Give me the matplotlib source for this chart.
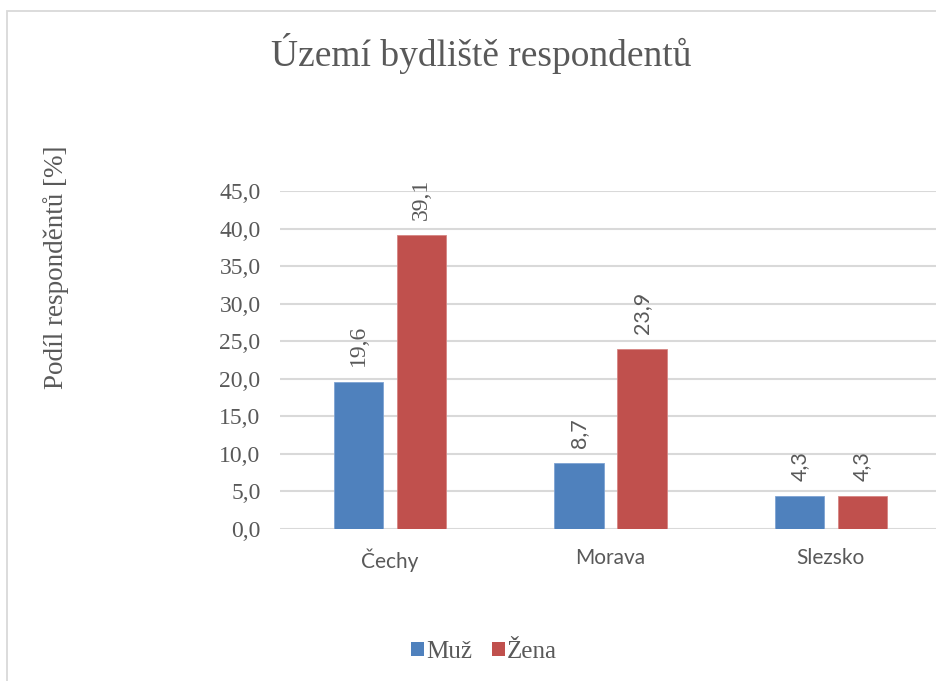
import matplotlib
matplotlib.use("Agg")
import matplotlib.pyplot as plt
from matplotlib.patches import Rectangle, Patch
from matplotlib.font_manager import FontProperties
import numpy as np

categories = ["Čechy", "Morava", "Slezsko"]
series_names = ["Muž", "Žena"]
muz = [19.6, 8.7, 4.3]
zena = [39.1, 23.9, 4.3]
yticks = [0, 5, 10, 15, 20, 25, 30, 35, 40, 45]

title = "Území bydliště respondentů"
ylabel = "Podíl responděntů [%]"

BLUE = "#4f81bd"
RED = "#c0504d"
TXT = "#595959"
GRID = "#d9d9d9"
SERIF = ["Liberation Serif", "DejaVu Serif"]
SANS = ["Lato", "DejaVu Sans"]

W, H = 936, 681
fig = plt.figure(figsize=(W / 100, H / 100), dpi=100)
fig.patch.set_facecolor("white")

# outer chart frame (cut off at right/bottom)
fig.patches.append(Rectangle((7 / W, -0.1), 1.2, 1 - 10.5 / H + 0.1,
                             transform=fig.transFigure, fill=False,
                             edgecolor=GRID, linewidth=1.3))

ax = fig.add_axes([280 / W, 1 - 528.7 / H, 661 / W, (528.7 - 191.2) / H])
x = np.arange(len(categories))
bw = 0.224
off = 0.1425
b1 = ax.bar(x - off, muz, bw, color=BLUE, edgecolor="#7ea3d3", linewidth=0.6, zorder=3)
b2 = ax.bar(x + off, zena, bw, color=RED, edgecolor="#d68583", linewidth=0.6, zorder=3)

ax.set_xlim(-0.5, len(categories) - 0.5)
ax.set_ylim(0, 45)
ax.set_yticks(yticks)
ax.set_yticklabels([f"{v:.1f}".replace(".", ",") for v in yticks],
                   fontfamily=SERIF, fontsize=17, color=TXT)
ax.set_xticks(x)
ax.set_xticklabels(categories, fontfamily=SANS, fontsize=15, color=TXT)
ax.tick_params(axis="y", length=0, pad=14)
ax.tick_params(axis="x", length=0, pad=14)
ax.grid(axis="y", color=GRID, linewidth=1.5, zorder=0)
for s in ax.spines.values():
    s.set_visible(False)
ax.set_facecolor("none")

for bars, vals in ((b1, muz), (b2, zena)):
    for i, (rect, v) in enumerate(zip(bars, vals)):
        fam = SERIF if i == 0 else SANS
        fs = 17 if i == 0 else 15.5
        ax.annotate(f"{v:.1f}".replace(".", ","),
                    (rect.get_x() + rect.get_width() / 2, v),
                    xytext=(0, 11), textcoords="offset points",
                    rotation=90, ha="center", va="bottom",
                    fontfamily=fam, fontsize=fs, color=TXT)

fig.text(481 / W, 1 - 66 / H, title, ha="center", va="baseline",
         fontfamily=SERIF, fontsize=27, color=TXT)
fig.text(56 / W, 1 - 267 / H, ylabel, ha="center", va="center", rotation=90,
         fontfamily=SERIF, fontsize=19.5, color=TXT)

handles = [Patch(facecolor=BLUE, edgecolor="none"), Patch(facecolor=RED, edgecolor="none")]
leg = fig.legend(handles, series_names, loc="center", bbox_to_anchor=(484 / W, 1 - 652 / H),
                 ncol=2, frameon=False, handlelength=0.5, handleheight=0.5,
                 handletextpad=0.1, columnspacing=0.8,
                 prop=FontProperties(family=SERIF, size=18))
for t in leg.get_texts():
    t.set_color(TXT)

fig.savefig("out.png", dpi=100)
